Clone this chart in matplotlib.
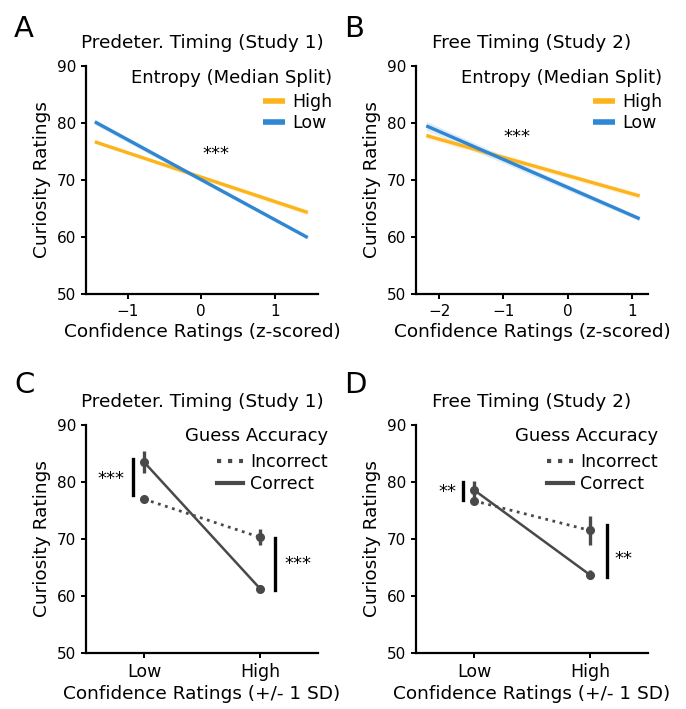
import numpy as np
import matplotlib
matplotlib.use("Agg")
import matplotlib.pyplot as plt
from matplotlib.lines import Line2D

# --- data ---
# panels A/B: regression line endpoints (x range, y at ends) and CI half-widths at ends
a_x = [-1.45, 1.45]
a_high = [76.7, 64.3]
a_low = [80.2, 59.9]
a_ci_high = [0.3, 0.5]
a_ci_low = [0.5, 0.3]

b_x = [-2.2, 1.12]
b_high = [77.8, 67.2]
b_low = [79.5, 63.2]
b_ci_high = [0.5, 0.5]
b_ci_low = [0.8, 0.4]

# panels C/D: means and error bars at Low / High confidence
conf_levels = ["Low", "High"]
c_incorrect = [77.0, 70.3]
c_incorrect_err = [0.5, 1.4]
c_correct = [83.5, 61.3]
c_correct_err = [2.0, 0.6]

d_incorrect = [76.7, 71.5]
d_incorrect_err = [0.6, 2.5]
d_correct = [78.6, 63.7]
d_correct_err = [1.5, 0.8]

# significance bars: (x, y0, y1, label, label_x, label_y, ha)
c_sig = [(-0.093, 77.7, 84.0, "***", -0.165, 80.5, "right"),
         (1.133, 61.0, 70.1, "***", 1.21, 65.6, "left")]
d_sig = [(-0.092, 76.9, 80.0, "**", -0.15, 78.2, "right"),
         (1.145, 63.3, 72.5, "**", 1.21, 66.5, "left")]

ORANGE = "#FDB31A"
BLUE = "#2F86D2"
GRAY = "#48494B"

plt.rcParams["font.family"] = "DejaVu Sans"
plt.rcParams["axes.linewidth"] = 1.6
plt.rcParams["xtick.major.width"] = 1.4
plt.rcParams["ytick.major.width"] = 1.4
plt.rcParams["xtick.labelsize"] = 11
plt.rcParams["ytick.labelsize"] = 11

fig = plt.figure(figsize=(6.86, 7.09), dpi=100)
W, H = 686, 709


def add_ax(left, top, right, bottom):
    return fig.add_axes([left / W, 1 - bottom / H, (right - left) / W, (bottom - top) / H])


axA = add_ax(86, 66, 318, 294)
axB = add_ax(416, 66, 648, 294)
axC = add_ax(86, 425, 318, 653)
axD = add_ax(416, 425, 648, 653)


def style(ax, title, xlabel):
    ax.set_ylim(50, 90)
    ax.set_yticks([50, 60, 70, 80, 90])
    ax.spines["top"].set_visible(False)
    ax.spines["right"].set_visible(False)
    ax.set_title(title, fontsize=13.3, pad=13)
    ax.set_xlabel(xlabel, fontsize=13.3, labelpad=3)
    ax.set_ylabel("Curiosity Ratings", fontsize=13.3, labelpad=4)


def reg_panel(ax, x, high, low, ci_h, ci_l, xlim, xticks, star_xy, title):
    for y, ci, c, lab in [(high, ci_h, ORANGE, "High"), (low, ci_l, BLUE, "Low")]:
        ax.fill_between(x, np.array(y) - np.array(ci), np.array(y) + np.array(ci),
                        color=c, alpha=0.15, lw=0)
        ax.plot(x, y, color=c, lw=2.4, label=lab, solid_capstyle="butt")
    ax.set_xlim(*xlim)
    ax.set_xticks(xticks)
    ax.text(star_xy[0], star_xy[1], "***", fontsize=13, ha="center", va="center")
    style(ax, title, "Confidence Ratings (z-scored)")
    leg = ax.legend(title="Entropy (Median Split)", loc="upper right", frameon=False,
                    fontsize=12.5, title_fontsize=13, bbox_to_anchor=(1.115, 1.04),
                    handlelength=1.3, borderpad=0.2, labelspacing=0.22,
                    handletextpad=0.4)
    leg._legend_box.align = "right"
    leg._legend_box.sep = 4
    for line in leg.get_lines():
        line.set_linewidth(4)


def point_panel(ax, inc, inc_err, cor, cor_err, sigs, title):
    xs = np.arange(len(conf_levels))
    ax.errorbar(xs, inc, yerr=inc_err, color=GRAY, ls=":", lw=2, marker="o", ms=5.5,
                elinewidth=2.4)
    ax.errorbar(xs, cor, yerr=cor_err, color=GRAY, ls="-", lw=1.8, marker="o", ms=5.5,
                elinewidth=2.4)
    for sx, y0, y1, lab, lx, ly, ha in sigs:
        ax.plot([sx, sx], [y0, y1], color="black", lw=2.4)
        ax.text(lx, ly, lab, fontsize=13, ha=ha, va="center")
    ax.set_xlim(-0.5, 1.5)
    ax.set_xticks(xs)
    ax.set_xticklabels(conf_levels, fontsize=12.5)
    style(ax, title, "Confidence Ratings (+/- 1 SD)")
    handles = [Line2D([], [], color=GRAY, ls=":", lw=3),
               Line2D([], [], color=GRAY, ls="-", lw=3)]
    leg = ax.legend(handles, ["Incorrect", "Correct"], title="Guess Accuracy",
                    loc="upper right", frameon=False,
                    fontsize=12.5, title_fontsize=13, bbox_to_anchor=(1.095, 1.045),
                    handlelength=1.5, borderpad=0.2, labelspacing=0.22,
                    handletextpad=0.4)
    leg._legend_box.align = "right"
    leg._legend_box.sep = 6


reg_panel(axA, a_x, a_high, a_low, a_ci_high, a_ci_low, (-1.57, 1.59), [-1, 0, 1],
          (0.2, 74.5), "Predeter. Timing (Study 1)")
reg_panel(axB, b_x, b_high, b_low, b_ci_high, b_ci_low, (-2.36, 1.25), [-2, -1, 0, 1],
          (-0.79, 77.5), "Free Timing (Study 2)")
point_panel(axC, c_incorrect, c_incorrect_err, c_correct, c_correct_err, c_sig,
            "Predeter. Timing (Study 1)")
point_panel(axD, d_incorrect, d_incorrect_err, d_correct, d_correct_err, d_sig,
            "Free Timing (Study 2)")

for lab, x, y in [("A", 14, 37), ("B", 344, 37), ("C", 14, 393), ("D", 344, 393)]:
    fig.text(x / W, 1 - y / H, lab, fontsize=21, ha="left", va="baseline")

fig.savefig("out.png", dpi=100)
